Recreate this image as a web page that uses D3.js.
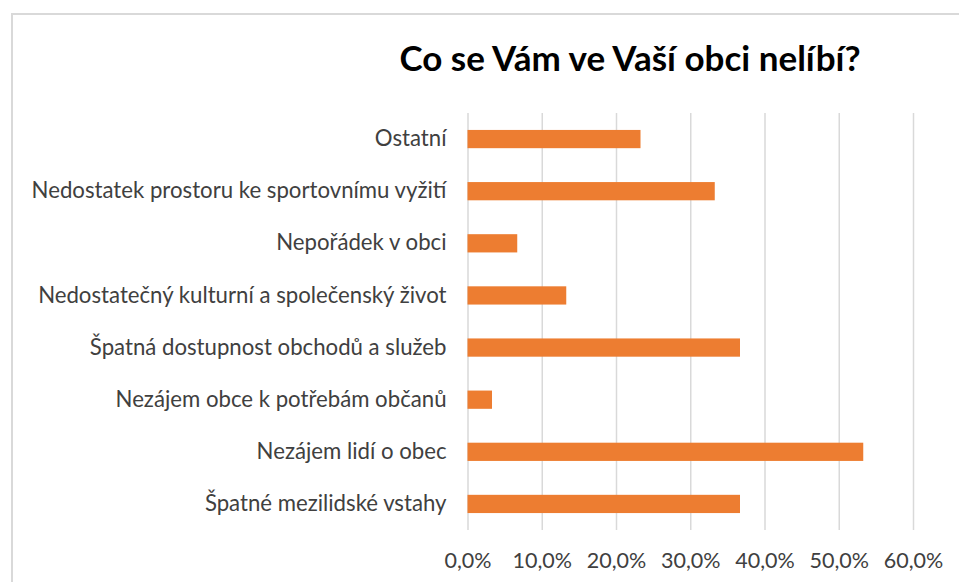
<!DOCTYPE html>
<html>
<head>
<meta charset="utf-8">
<script src="https://cdn.jsdelivr.net/npm/d3@7"></script>
<style>
    html, body { margin: 0; padding: 0; background: #fff; }
    svg { display: block; }
    .label { font-family: Lato, "Open Sans", sans-serif; fill: #404040; }
</style>
</head>
<body>
<svg id="chart" width="959" height="582"></svg>
<script>
// kategorie odshora dolu
var categories = [
    "Ostatní",
    "Nedostatek prostoru ke sportovnímu vyžití",
    "Nepořádek v obci",
    "Nedostatečný kulturní a společenský život",
    "Špatná dostupnost obchodů a služeb",
    "Nezájem obce k potřebám občanů",
    "Nezájem lidí o obec",
    "Špatné mezilidské vstahy"
];
// podíly odpovědí
var values = [0.233, 0.333, 0.067, 0.133, 0.367, 0.033, 0.533, 0.367];
var tickValues = [0, 0.1, 0.2, 0.3, 0.4, 0.5, 0.6];
var title = "Co se Vám ve Vaší obci nelíbí?";

var svg = d3.select("#chart"),
    plot = {left: 467.5, right: 913, top: 113, bottom: 530},
    csLocale = d3.formatLocale({decimal: ",", thousands: " ", grouping: [3], currency: ["", " Kč"]}),
    pct = csLocale.format(".1%");

// ramecek grafu
svg.append("path")
    .attr("d", "M12,582V14H959")
    .attr("fill", "none")
    .attr("stroke", "#d9d9d9")
    .attr("stroke-width", 2);

var x = d3.scaleLinear()
    .domain([0, 0.6])
    .range([plot.left, plot.right]);

var y = d3.scaleBand()
    .domain(categories)
    .range([plot.top, plot.bottom])
    .paddingInner(0.65)
    .paddingOuter(0.325);

// mrizka + popisky osy x
var xAxis = svg.append("g")
    .attr("transform", "translate(0," + plot.bottom + ")")
    .call(d3.axisBottom(x)
        .tickValues(tickValues)
        .tickFormat(pct)
        .tickSize(-(plot.bottom - plot.top))
        .tickPadding(23));
xAxis.select(".domain").remove();
xAxis.selectAll("line").attr("stroke", "#d9d9d9").attr("stroke-width", 1.5);
xAxis.selectAll("text")
    .attr("class", "label")
    .attr("fill", "#404040")
    .style("font-size", "21.5px");

// popisky kategorii
var yAxis = svg.append("g")
    .attr("transform", "translate(" + (plot.left - 21) + ",0)")
    .call(d3.axisLeft(y).tickSize(0).tickPadding(0));
yAxis.select(".domain").remove();
yAxis.selectAll("text")
    .attr("class", "label")
    .attr("fill", "#404040")
    .style("font-size", "22.2px");

// sloupce
svg.append("g")
    .selectAll("rect")
    .data(values)
    .enter()
    .append("rect")
    .attr("x", x(0))
    .attr("y", function (d, i) { return y(categories[i]); })
    .attr("width", function (d) { return x(d) - x(0); })
    .attr("height", y.bandwidth())
    .attr("fill", "#ed7d31");

svg.append("text")
    .attr("x", 630)
    .attr("y", 71)
    .attr("text-anchor", "middle")
    .style("font-family", "Lato, 'Open Sans', sans-serif")
    .style("font-weight", "bold")
    .style("font-size", "35px")
    .attr("fill", "#000")
    .text(title);
</script>
</body>
</html>
